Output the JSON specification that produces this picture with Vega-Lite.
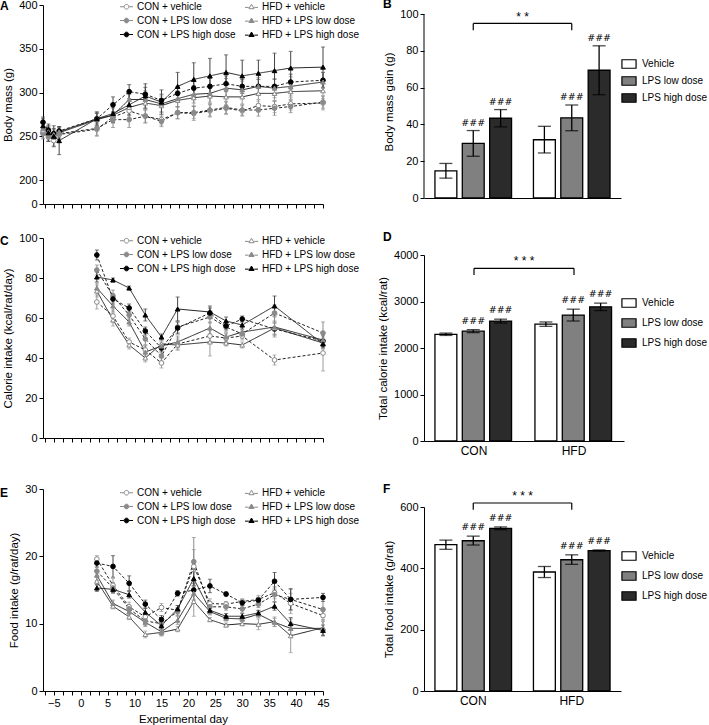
{
"$schema":"https://vega.github.io/schema/vega-lite/v6.json",
"padding":{"left":0,"top":-2,"right":0,"bottom":0},
"config":{"font":"Liberation Sans","view":{"stroke":null},
"axis":{"grid":false,"domainColor":"#000","tickColor":"#000","labelColor":"#000","titleColor":"#000","labelFontSize":11,"titleFontSize":11.5,"titleFontWeight":"normal","labelFont":"Liberation Sans","titleFont":"Liberation Sans","tickSize":4,"titlePadding":5,"labelOverlap":false},
"legend":{"labelFont":"Liberation Sans","labelColor":"#000","padding":0},
"title":{"font":"Liberation Sans","fontWeight":"bold","fontSize":12,"color":"#000","anchor":"start","frame":"group"}},
"datasets":{
"A":[
{"s":"CV","d":-7,"v":254,"e":6},{"s":"CV","d":-6,"v":251,"e":6},{"s":"CV","d":-5,"v":245,"e":6},{"s":"CV","d":-4,"v":252,"e":5},{"s":"CV","d":3,"v":258,"e":8},{"s":"CV","d":6,"v":272,"e":6},{"s":"CV","d":9,"v":279,"e":7},{"s":"CV","d":12,"v":273,"e":7},{"s":"CV","d":15,"v":269,"e":6},{"s":"CV","d":18,"v":277,"e":7},{"s":"CV","d":21,"v":276,"e":8},{"s":"CV","d":24,"v":279,"e":7},{"s":"CV","d":27,"v":282,"e":7},{"s":"CV","d":30,"v":279,"e":6},{"s":"CV","d":33,"v":285,"e":7},{"s":"CV","d":36,"v":284,"e":7},{"s":"CV","d":39,"v":287,"e":7},{"s":"CV","d":45,"v":288,"e":8},
{"s":"CL","d":-7,"v":253,"e":6},{"s":"CL","d":-6,"v":249,"e":5},{"s":"CL","d":-5,"v":249,"e":5},{"s":"CL","d":-4,"v":253,"e":5},{"s":"CL","d":3,"v":259,"e":8},{"s":"CL","d":6,"v":269,"e":9},{"s":"CL","d":9,"v":269,"e":9},{"s":"CL","d":12,"v":273,"e":8},{"s":"CL","d":15,"v":267,"e":6},{"s":"CL","d":18,"v":277,"e":7},{"s":"CL","d":21,"v":277,"e":7},{"s":"CL","d":24,"v":280,"e":7},{"s":"CL","d":27,"v":283,"e":7},{"s":"CL","d":30,"v":280,"e":6},{"s":"CL","d":33,"v":280,"e":7},{"s":"CL","d":36,"v":282,"e":8},{"s":"CL","d":39,"v":284,"e":7},{"s":"CL","d":45,"v":289,"e":7},
{"s":"CH","d":-7,"v":266,"e":6},{"s":"CH","d":-6,"v":257,"e":5},{"s":"CH","d":-5,"v":253,"e":6},{"s":"CH","d":-4,"v":256,"e":5},{"s":"CH","d":3,"v":270,"e":6},{"s":"CH","d":6,"v":286,"e":9},{"s":"CH","d":9,"v":301,"e":8},{"s":"CH","d":12,"v":298,"e":8},{"s":"CH","d":15,"v":291,"e":7},{"s":"CH","d":18,"v":299,"e":8},{"s":"CH","d":21,"v":305,"e":9},{"s":"CH","d":24,"v":307,"e":9},{"s":"CH","d":27,"v":310,"e":9},{"s":"CH","d":30,"v":307,"e":8},{"s":"CH","d":33,"v":307,"e":8},{"s":"CH","d":36,"v":307,"e":8},{"s":"CH","d":39,"v":312,"e":9},{"s":"CH","d":45,"v":314,"e":9},
{"s":"HV","d":-7,"v":257,"e":5},{"s":"HV","d":-6,"v":255,"e":5},{"s":"HV","d":-5,"v":252,"e":5},{"s":"HV","d":-4,"v":255,"e":5},{"s":"HV","d":3,"v":270,"e":7},{"s":"HV","d":6,"v":274,"e":8},{"s":"HV","d":9,"v":283,"e":8},{"s":"HV","d":12,"v":288,"e":8},{"s":"HV","d":15,"v":285,"e":8},{"s":"HV","d":18,"v":291,"e":8},{"s":"HV","d":21,"v":294,"e":9},{"s":"HV","d":24,"v":296,"e":9},{"s":"HV","d":27,"v":295,"e":9},{"s":"HV","d":30,"v":295,"e":8},{"s":"HV","d":33,"v":299,"e":9},{"s":"HV","d":36,"v":299,"e":9},{"s":"HV","d":39,"v":301,"e":9},{"s":"HV","d":45,"v":302,"e":9},
{"s":"HL","d":-7,"v":259,"e":6},{"s":"HL","d":-6,"v":255,"e":6},{"s":"HL","d":-5,"v":251,"e":7},{"s":"HL","d":-4,"v":254,"e":6},{"s":"HL","d":3,"v":269,"e":8},{"s":"HL","d":6,"v":274,"e":9},{"s":"HL","d":9,"v":292,"e":9},{"s":"HL","d":12,"v":292,"e":10},{"s":"HL","d":15,"v":287,"e":9},{"s":"HL","d":18,"v":293,"e":9},{"s":"HL","d":21,"v":298,"e":10},{"s":"HL","d":24,"v":299,"e":10},{"s":"HL","d":27,"v":305,"e":11},{"s":"HL","d":30,"v":303,"e":10},{"s":"HL","d":33,"v":307,"e":10},{"s":"HL","d":36,"v":305,"e":11},{"s":"HL","d":39,"v":307,"e":11},{"s":"HL","d":45,"v":312,"e":11},
{"s":"HH","d":-7,"v":262,"e":8},{"s":"HH","d":-6,"v":254,"e":10},{"s":"HH","d":-5,"v":250,"e":12},{"s":"HH","d":-4,"v":245,"e":16},{"s":"HH","d":3,"v":270,"e":8},{"s":"HH","d":6,"v":276,"e":10},{"s":"HH","d":9,"v":286,"e":12},{"s":"HH","d":12,"v":296,"e":14},{"s":"HH","d":15,"v":289,"e":14},{"s":"HH","d":18,"v":307,"e":16},{"s":"HH","d":21,"v":315,"e":19},{"s":"HH","d":24,"v":319,"e":20},{"s":"HH","d":27,"v":323,"e":20},{"s":"HH","d":30,"v":319,"e":18},{"s":"HH","d":33,"v":322,"e":15},{"s":"HH","d":36,"v":325,"e":20},{"s":"HH","d":39,"v":328,"e":19},{"s":"HH","d":45,"v":329,"e":23}
],
"C":[
{"s":"CV","d":3,"v":68,"e":3.5},{"s":"CV","d":6,"v":61,"e":3},{"s":"CV","d":9,"v":48,"e":2},{"s":"CV","d":12,"v":44,"e":2.5},{"s":"CV","d":15,"v":37.5,"e":2.5},{"s":"CV","d":18,"v":47,"e":3},{"s":"CV","d":24,"v":51,"e":3},{"s":"CV","d":27,"v":50,"e":2},{"s":"CV","d":30,"v":51,"e":2},{"s":"CV","d":36,"v":39,"e":2.5},{"s":"CV","d":45,"v":42.5,"e":9},
{"s":"CL","d":3,"v":84,"e":2.5},{"s":"CL","d":6,"v":71,"e":3},{"s":"CL","d":9,"v":61.5,"e":2.5},{"s":"CL","d":12,"v":49.5,"e":3},{"s":"CL","d":15,"v":41,"e":2.5},{"s":"CL","d":18,"v":55.5,"e":3},{"s":"CL","d":24,"v":60.5,"e":3},{"s":"CL","d":27,"v":55.5,"e":2.5},{"s":"CL","d":30,"v":52,"e":2},{"s":"CL","d":36,"v":62.5,"e":4},{"s":"CL","d":45,"v":52.5,"e":5.5},
{"s":"CH","d":3,"v":91.5,"e":2.5},{"s":"CH","d":6,"v":69.5,"e":2.5},{"s":"CH","d":9,"v":65,"e":2},{"s":"CH","d":12,"v":53.5,"e":2},{"s":"CH","d":15,"v":45,"e":2},{"s":"CH","d":18,"v":55,"e":3},{"s":"CH","d":24,"v":62.5,"e":2.5},{"s":"CH","d":27,"v":56,"e":2},{"s":"CH","d":30,"v":59.5,"e":1.5},{"s":"CH","d":36,"v":54.5,"e":3},{"s":"CH","d":45,"v":48.5,"e":3},
{"s":"HV","d":3,"v":73.5,"e":3},{"s":"HV","d":6,"v":59,"e":3},{"s":"HV","d":9,"v":46.5,"e":2},{"s":"HV","d":12,"v":40,"e":2},{"s":"HV","d":15,"v":47,"e":2},{"s":"HV","d":18,"v":46.5,"e":2.5},{"s":"HV","d":24,"v":48,"e":7},{"s":"HV","d":27,"v":47.5,"e":1.5},{"s":"HV","d":30,"v":46.5,"e":1.5},{"s":"HV","d":36,"v":55,"e":3},{"s":"HV","d":45,"v":47.5,"e":3},
{"s":"HL","d":3,"v":75,"e":2.5},{"s":"HL","d":6,"v":66,"e":3},{"s":"HL","d":9,"v":58,"e":2},{"s":"HL","d":12,"v":43,"e":3},{"s":"HL","d":15,"v":46,"e":2},{"s":"HL","d":18,"v":48,"e":3},{"s":"HL","d":24,"v":55,"e":3},{"s":"HL","d":27,"v":50.5,"e":2},{"s":"HL","d":30,"v":53,"e":2.5},{"s":"HL","d":36,"v":55.5,"e":5},{"s":"HL","d":45,"v":49,"e":3},
{"s":"HH","d":3,"v":80.5,"e":2.5},{"s":"HH","d":6,"v":79,"e":1},{"s":"HH","d":9,"v":75,"e":1},{"s":"HH","d":12,"v":61.5,"e":3},{"s":"HH","d":15,"v":50.5,"e":1.5},{"s":"HH","d":18,"v":64.5,"e":6},{"s":"HH","d":24,"v":63,"e":3},{"s":"HH","d":27,"v":58.5,"e":2},{"s":"HH","d":30,"v":56.5,"e":2},{"s":"HH","d":36,"v":66,"e":5},{"s":"HH","d":45,"v":47,"e":2}
],
"E":[
{"s":"CV","d":3,"v":19.6,"e":0.5},{"s":"CV","d":6,"v":15.7,"e":1},{"s":"CV","d":9,"v":12.5,"e":0.7},{"s":"CV","d":12,"v":11,"e":0.6},{"s":"CV","d":15,"v":12.4,"e":0.6},{"s":"CV","d":18,"v":12,"e":0.7},{"s":"CV","d":21,"v":18.5,"e":2.5},{"s":"CV","d":24,"v":13,"e":0.7},{"s":"CV","d":27,"v":12.9,"e":0.4},{"s":"CV","d":30,"v":13.3,"e":0.4},{"s":"CV","d":33,"v":13.6,"e":0.6},{"s":"CV","d":36,"v":14.6,"e":0.9},{"s":"CV","d":39,"v":13,"e":1.5},{"s":"CV","d":45,"v":11.2,"e":0.7},
{"s":"CL","d":3,"v":17.8,"e":0.6},{"s":"CL","d":6,"v":15.3,"e":0.8},{"s":"CL","d":9,"v":12.2,"e":0.6},{"s":"CL","d":12,"v":10.4,"e":0.7},{"s":"CL","d":15,"v":10,"e":0.8},{"s":"CL","d":18,"v":11.8,"e":0.6},{"s":"CL","d":21,"v":19.2,"e":3.6},{"s":"CL","d":24,"v":12.5,"e":0.7},{"s":"CL","d":27,"v":12.5,"e":0.5},{"s":"CL","d":30,"v":12.2,"e":0.5},{"s":"CL","d":33,"v":12.9,"e":0.5},{"s":"CL","d":36,"v":14.3,"e":1},{"s":"CL","d":39,"v":13.6,"e":1.5},{"s":"CL","d":45,"v":12.1,"e":1.2},
{"s":"CH","d":3,"v":19,"e":0.6},{"s":"CH","d":6,"v":18.5,"e":1.6},{"s":"CH","d":9,"v":16,"e":1.1},{"s":"CH","d":12,"v":12.9,"e":0.6},{"s":"CH","d":15,"v":10.6,"e":0.6},{"s":"CH","d":18,"v":14.5,"e":0.4},{"s":"CH","d":21,"v":15,"e":1.5},{"s":"CH","d":24,"v":15.6,"e":1},{"s":"CH","d":27,"v":14.4,"e":0.3},{"s":"CH","d":30,"v":13.1,"e":0.4},{"s":"CH","d":33,"v":13.5,"e":0.4},{"s":"CH","d":36,"v":16.3,"e":1.3},{"s":"CH","d":39,"v":13.6,"e":1.6},{"s":"CH","d":45,"v":13.9,"e":0.6},
{"s":"HV","d":3,"v":16.3,"e":0.6},{"s":"HV","d":6,"v":12.6,"e":0.4},{"s":"HV","d":9,"v":11,"e":0.4},{"s":"HV","d":12,"v":8.4,"e":0.5},{"s":"HV","d":15,"v":8.7,"e":0.5},{"s":"HV","d":18,"v":9.2,"e":0.4},{"s":"HV","d":21,"v":13.3,"e":2.2},{"s":"HV","d":24,"v":10.6,"e":0.3},{"s":"HV","d":27,"v":9.8,"e":0.3},{"s":"HV","d":30,"v":10,"e":0.3},{"s":"HV","d":33,"v":9.9,"e":0.8},{"s":"HV","d":36,"v":10.3,"e":0.7},{"s":"HV","d":39,"v":8.2,"e":2.5},{"s":"HV","d":45,"v":9.4,"e":1.2},
{"s":"HL","d":3,"v":17.2,"e":0.8},{"s":"HL","d":6,"v":13,"e":0.5},{"s":"HL","d":9,"v":11.8,"e":0.5},{"s":"HL","d":12,"v":10.2,"e":0.6},{"s":"HL","d":15,"v":8.8,"e":0.6},{"s":"HL","d":18,"v":10.5,"e":0.6},{"s":"HL","d":21,"v":14.5,"e":1.5},{"s":"HL","d":24,"v":11.8,"e":0.5},{"s":"HL","d":27,"v":10.8,"e":0.4},{"s":"HL","d":30,"v":10.7,"e":0.4},{"s":"HL","d":33,"v":11.4,"e":0.5},{"s":"HL","d":36,"v":10.2,"e":0.6},{"s":"HL","d":39,"v":9.3,"e":0.9},{"s":"HL","d":45,"v":9.3,"e":1},
{"s":"HH","d":3,"v":15.3,"e":0.5},{"s":"HH","d":6,"v":15.1,"e":0.5},{"s":"HH","d":9,"v":14.3,"e":0.5},{"s":"HH","d":12,"v":11.7,"e":0.6},{"s":"HH","d":15,"v":9.7,"e":0.5},{"s":"HH","d":18,"v":12.2,"e":0.5},{"s":"HH","d":21,"v":16.7,"e":1},{"s":"HH","d":24,"v":12,"e":0.5},{"s":"HH","d":27,"v":11.1,"e":0.4},{"s":"HH","d":30,"v":11.1,"e":0.4},{"s":"HH","d":33,"v":11.6,"e":0.4},{"s":"HH","d":36,"v":12.6,"e":0.6},{"s":"HH","d":39,"v":10,"e":0.9},{"s":"HH","d":45,"v":9,"e":0.8}
],
"B":[
{"g":"CON","t":"Vehicle","v":14.8,"lo":10.8,"hi":18.8,"sig":""},{"g":"CON","t":"LPS low dose","v":29.7,"lo":22.7,"hi":36.7,"sig":"###"},{"g":"CON","t":"LPS high dose","v":43.4,"lo":38.7,"hi":48.1,"sig":"###"},
{"g":"HFD","t":"Vehicle","v":31.7,"lo":24.5,"hi":39,"sig":""},{"g":"HFD","t":"LPS low dose","v":43.6,"lo":36.6,"hi":50.6,"sig":"###"},{"g":"HFD","t":"LPS high dose","v":69.5,"lo":56.2,"hi":82.8,"sig":"###"}
],
"D":[
{"g":"CON","t":"Vehicle","v":2295,"lo":2270,"hi":2320,"sig":""},{"g":"CON","t":"LPS low dose","v":2362,"lo":2330,"hi":2395,"sig":"###"},{"g":"CON","t":"LPS high dose","v":2578,"lo":2535,"hi":2620,"sig":"###"},
{"g":"HFD","t":"Vehicle","v":2513,"lo":2465,"hi":2560,"sig":""},{"g":"HFD","t":"LPS low dose","v":2707,"lo":2580,"hi":2835,"sig":"###"},{"g":"HFD","t":"LPS high dose","v":2886,"lo":2805,"hi":2965,"sig":"###"}
],
"F":[
{"g":"CON","t":"Vehicle","v":477,"lo":462,"hi":492,"sig":""},{"g":"CON","t":"LPS low dose","v":490,"lo":476,"hi":505,"sig":"###"},{"g":"CON","t":"LPS high dose","v":530,"lo":526,"hi":535,"sig":"###"},
{"g":"HFD","t":"Vehicle","v":388,"lo":370,"hi":406,"sig":""},{"g":"HFD","t":"LPS low dose","v":428,"lo":413,"hi":444,"sig":"###"},{"g":"HFD","t":"LPS high dose","v":458,"lo":456,"hi":460,"sig":"###"}
]
},
"resolve":{"scale":{"color":"independent","fill":"independent","stroke":"independent","shape":"independent","strokeDash":"independent"},"legend":{"color":"independent","fill":"independent","stroke":"independent","shape":"independent","strokeDash":"independent"}},
"spacing":18,
"hconcat":[
{"spacing":40,
"resolve":{"scale":{"color":"independent","fill":"independent","stroke":"independent","shape":"independent","strokeDash":"independent"},"legend":{"color":"independent","fill":"independent","stroke":"independent","shape":"independent","strokeDash":"independent"}},
"vconcat":[
{"spacing":23,
"resolve":{"scale":{"color":"independent","fill":"independent","stroke":"independent","shape":"independent","strokeDash":"independent"},"legend":{"color":"independent","fill":"independent","stroke":"independent","shape":"independent","strokeDash":"independent"}},
"vconcat":[
{"width":280,"height":199,"title":{"text":"A","dx":-43,"offset":-14},"data":{"name":"A"},
"resolve":{"scale":{"shape":"independent","fill":"independent","stroke":"independent"},"legend":{"shape":"independent","fill":"independent","stroke":"independent"}},
"encoding":{"x":{"field":"d","type":"quantitative","scale":{"domain":[-7,45],"nice":false,"zero":false},"axis":{"title":null,"labels":false,"values":[-6.667,-5,-3.333,-1.667,0,1.667,3.333,5,6.667,8.333,10,11.667,13.333,15,16.667,18.333,20,21.667,23.333,25,26.667,28.333,30,31.667,33.333,35,36.667,38.333,40,41.667,43.333,45]}},
"y":{"field":"v","type":"quantitative","scale":{"domain":[172.6,400],"nice":false,"zero":false},"axis":{"title":"Body mass (g)","values":[172.6,200,250,300,350,400],"labelExpr":"datum.value < 190 ? '0' : datum.label"}}},
"layer":[
{"mark":{"type":"errorbar","ticks":{"size":4},"thickness":1},"encoding":{"yError":{"field":"e"},"color":{"field":"s","type":"nominal","scale":{"domain":["CL","CV","CH","HV","HL","HH"],"range":["#8a8a8a","#9a9a9a","#444444","#9a9a9a","#8a8a8a","#444444"]},"legend":null}}},
{"mark":{"type":"line","color":"#222222","strokeWidth":1},"encoding":{"strokeDash":{"field":"s","type":"nominal","scale":{"domain":["HH","HL","HV","CH","CL","CV"],"range":[[1,0],[1,0],[1,0],[3,2],[3,2],[3,2]]},"legend":null}}},
{"mark":{"type":"point","size":22,"opacity":1,"strokeWidth":1},"encoding":{
"shape":{"field":"s","type":"nominal","scale":{"domain":["CH","CL","CV","HH","HL","HV"],"range":["circle","circle","circle","triangle-up","triangle-up","triangle-up"]},"legend":null},
"fill":{"field":"s","type":"nominal","scale":{"domain":["CH","CL","CV","HH","HL","HV"],"range":["#000000","#8a8a8a","#ffffff","#000000","#8a8a8a","#ffffff"]},"legend":null},
"stroke":{"field":"s","type":"nominal","scale":{"domain":["CH","CL","CV","HH","HL","HV"],"range":["#000000","#8a8a8a","#8a8a8a","#000000","#8a8a8a","#8a8a8a"]},"legend":null}}},
{"mark":{"type":"point","size":0,"opacity":1,"strokeWidth":1},"encoding":{
"shape":{"field":"s","type":"nominal","scale":{"domain":["CV","CL","CH","HV","HL","HH"],"range":["M-1,0H-0.4M0.4,0H1M-0.36,0A0.36,0.36,0,1,1,0.36,0A0.36,0.36,0,1,1,-0.36,0Z","M-1,0H-0.4M0.4,0H1M-0.36,0A0.36,0.36,0,1,1,0.36,0A0.36,0.36,0,1,1,-0.36,0Z","M-1,0H-0.4M0.4,0H1M-0.36,0A0.36,0.36,0,1,1,0.36,0A0.36,0.36,0,1,1,-0.36,0Z","M-1,0.1H-0.42M0.42,0.1H1M-0.4,0.3L0,-0.38L0.4,0.3Z","M-1,0.1H-0.42M0.42,0.1H1M-0.4,0.3L0,-0.38L0.4,0.3Z","M-1,0.1H-0.42M0.42,0.1H1M-0.4,0.3L0,-0.38L0.4,0.3Z"]},"legend":{"title":null,"orient":"none","legendX":76,"legendY":-6,"columns":2,"columnPadding":6,"rowPadding":1,"symbolSize":170,"symbolOpacity":1,"symbolStrokeWidth":1,"labelFontSize":10,"labelOffset":3,"labelExpr":"datum.value=='CV'?'CON + vehicle':datum.value=='CL'?'CON + LPS low dose':datum.value=='CH'?'CON + LPS high dose':datum.value=='HV'?'HFD + vehicle':datum.value=='HL'?'HFD + LPS low dose':'HFD + LPS high dose'"}},
"fill":{"field":"s","type":"nominal","scale":{"domain":["CV","CL","CH","HV","HL","HH"],"range":["#ffffff","#8a8a8a","#000000","#ffffff","#8a8a8a","#000000"]}},
"stroke":{"field":"s","type":"nominal","scale":{"domain":["CV","CL","CH","HV","HL","HH"],"range":["#8a8a8a","#8a8a8a","#000000","#8a8a8a","#8a8a8a","#000000"]}}}}
]},
{"width":280,"height":200,"title":{"text":"C","dx":-43,"offset":-16},"data":{"name":"C"},
"resolve":{"scale":{"shape":"independent","fill":"independent","stroke":"independent"},"legend":{"shape":"independent","fill":"independent","stroke":"independent"}},
"encoding":{"x":{"field":"d","type":"quantitative","scale":{"domain":[-7,45],"nice":false,"zero":false},"axis":{"title":null,"labels":false,"values":[-6.667,-5,-3.333,-1.667,0,1.667,3.333,5,6.667,8.333,10,11.667,13.333,15,16.667,18.333,20,21.667,23.333,25,26.667,28.333,30,31.667,33.333,35,36.667,38.333,40,41.667,43.333,45]}},
"y":{"field":"v","type":"quantitative","scale":{"domain":[0,100],"nice":false},"axis":{"title":"Calorie intake (kcal/rat/day)","values":[0,20,40,60,80,100]}}},
"layer":[
{"mark":{"type":"errorbar","ticks":{"size":4},"thickness":1},"encoding":{"yError":{"field":"e"},"color":{"field":"s","type":"nominal","scale":{"domain":["CL","CV","CH","HV","HL","HH"],"range":["#8a8a8a","#9a9a9a","#444444","#9a9a9a","#8a8a8a","#444444"]},"legend":null}}},
{"mark":{"type":"line","color":"#222222","strokeWidth":1},"encoding":{"strokeDash":{"field":"s","type":"nominal","scale":{"domain":["HH","HL","HV","CH","CL","CV"],"range":[[1,0],[1,0],[1,0],[3,2],[3,2],[3,2]]},"legend":null}}},
{"mark":{"type":"point","size":22,"opacity":1,"strokeWidth":1},"encoding":{
"shape":{"field":"s","type":"nominal","scale":{"domain":["CH","CL","CV","HH","HL","HV"],"range":["circle","circle","circle","triangle-up","triangle-up","triangle-up"]},"legend":null},
"fill":{"field":"s","type":"nominal","scale":{"domain":["CH","CL","CV","HH","HL","HV"],"range":["#000000","#8a8a8a","#ffffff","#000000","#8a8a8a","#ffffff"]},"legend":null},
"stroke":{"field":"s","type":"nominal","scale":{"domain":["CH","CL","CV","HH","HL","HV"],"range":["#000000","#8a8a8a","#8a8a8a","#000000","#8a8a8a","#8a8a8a"]},"legend":null}}},
{"mark":{"type":"point","size":0,"opacity":1,"strokeWidth":1},"encoding":{
"shape":{"field":"s","type":"nominal","scale":{"domain":["CV","CL","CH","HV","HL","HH"],"range":["M-1,0H-0.4M0.4,0H1M-0.36,0A0.36,0.36,0,1,1,0.36,0A0.36,0.36,0,1,1,-0.36,0Z","M-1,0H-0.4M0.4,0H1M-0.36,0A0.36,0.36,0,1,1,0.36,0A0.36,0.36,0,1,1,-0.36,0Z","M-1,0H-0.4M0.4,0H1M-0.36,0A0.36,0.36,0,1,1,0.36,0A0.36,0.36,0,1,1,-0.36,0Z","M-1,0.1H-0.42M0.42,0.1H1M-0.4,0.3L0,-0.38L0.4,0.3Z","M-1,0.1H-0.42M0.42,0.1H1M-0.4,0.3L0,-0.38L0.4,0.3Z","M-1,0.1H-0.42M0.42,0.1H1M-0.4,0.3L0,-0.38L0.4,0.3Z"]},"legend":{"title":null,"orient":"none","legendX":76,"legendY":-5,"columns":2,"columnPadding":6,"rowPadding":1,"symbolSize":170,"symbolOpacity":1,"symbolStrokeWidth":1,"labelFontSize":10,"labelOffset":3,"labelExpr":"datum.value=='CV'?'CON + vehicle':datum.value=='CL'?'CON + LPS low dose':datum.value=='CH'?'CON + LPS high dose':datum.value=='HV'?'HFD + vehicle':datum.value=='HL'?'HFD + LPS low dose':'HFD + LPS high dose'"}},
"fill":{"field":"s","type":"nominal","scale":{"domain":["CV","CL","CH","HV","HL","HH"],"range":["#ffffff","#8a8a8a","#000000","#ffffff","#8a8a8a","#000000"]}},
"stroke":{"field":"s","type":"nominal","scale":{"domain":["CV","CL","CH","HV","HL","HH"],"range":["#8a8a8a","#8a8a8a","#000000","#8a8a8a","#8a8a8a","#000000"]}}}}
]}
]},
{"width":280,"height":202,"title":{"text":"E","dx":-43,"offset":-17},"data":{"name":"E"},
"resolve":{"scale":{"shape":"independent","fill":"independent","stroke":"independent"},"legend":{"shape":"independent","fill":"independent","stroke":"independent"}},
"encoding":{"x":{"field":"d","type":"quantitative","scale":{"domain":[-7,45],"nice":false,"zero":false},"axis":{"title":"Experimental day","labelFlush":false,"labelExpr":"abs(datum.value % 5) < 0.01 ? datum.label : ''","values":[-6.667,-5,-3.333,-1.667,0,1.667,3.333,5,6.667,8.333,10,11.667,13.333,15,16.667,18.333,20,21.667,23.333,25,26.667,28.333,30,31.667,33.333,35,36.667,38.333,40,41.667,43.333,45]}},
"y":{"field":"v","type":"quantitative","scale":{"domain":[0,30],"nice":false},"axis":{"title":"Food intake (g/rat/day)","values":[0,10,20,30]}}},
"layer":[
{"mark":{"type":"errorbar","ticks":{"size":4},"thickness":1},"encoding":{"yError":{"field":"e"},"color":{"field":"s","type":"nominal","scale":{"domain":["CL","CV","CH","HV","HL","HH"],"range":["#8a8a8a","#9a9a9a","#444444","#9a9a9a","#8a8a8a","#444444"]},"legend":null}}},
{"mark":{"type":"line","color":"#222222","strokeWidth":1},"encoding":{"strokeDash":{"field":"s","type":"nominal","scale":{"domain":["HH","HL","HV","CH","CL","CV"],"range":[[1,0],[1,0],[1,0],[3,2],[3,2],[3,2]]},"legend":null}}},
{"mark":{"type":"point","size":22,"opacity":1,"strokeWidth":1},"encoding":{
"shape":{"field":"s","type":"nominal","scale":{"domain":["CH","CL","CV","HH","HL","HV"],"range":["circle","circle","circle","triangle-up","triangle-up","triangle-up"]},"legend":null},
"fill":{"field":"s","type":"nominal","scale":{"domain":["CH","CL","CV","HH","HL","HV"],"range":["#000000","#8a8a8a","#ffffff","#000000","#8a8a8a","#ffffff"]},"legend":null},
"stroke":{"field":"s","type":"nominal","scale":{"domain":["CH","CL","CV","HH","HL","HV"],"range":["#000000","#8a8a8a","#8a8a8a","#000000","#8a8a8a","#8a8a8a"]},"legend":null}}},
{"mark":{"type":"point","size":0,"opacity":1,"strokeWidth":1},"encoding":{
"shape":{"field":"s","type":"nominal","scale":{"domain":["CV","CL","CH","HV","HL","HH"],"range":["M-1,0H-0.4M0.4,0H1M-0.36,0A0.36,0.36,0,1,1,0.36,0A0.36,0.36,0,1,1,-0.36,0Z","M-1,0H-0.4M0.4,0H1M-0.36,0A0.36,0.36,0,1,1,0.36,0A0.36,0.36,0,1,1,-0.36,0Z","M-1,0H-0.4M0.4,0H1M-0.36,0A0.36,0.36,0,1,1,0.36,0A0.36,0.36,0,1,1,-0.36,0Z","M-1,0.1H-0.42M0.42,0.1H1M-0.4,0.3L0,-0.38L0.4,0.3Z","M-1,0.1H-0.42M0.42,0.1H1M-0.4,0.3L0,-0.38L0.4,0.3Z","M-1,0.1H-0.42M0.42,0.1H1M-0.4,0.3L0,-0.38L0.4,0.3Z"]},"legend":{"title":null,"orient":"none","legendX":76,"legendY":-4,"columns":2,"columnPadding":6,"rowPadding":1,"symbolSize":170,"symbolOpacity":1,"symbolStrokeWidth":1,"labelFontSize":10,"labelOffset":3,"labelExpr":"datum.value=='CV'?'CON + vehicle':datum.value=='CL'?'CON + LPS low dose':datum.value=='CH'?'CON + LPS high dose':datum.value=='HV'?'HFD + vehicle':datum.value=='HL'?'HFD + LPS low dose':'HFD + LPS high dose'"}},
"fill":{"field":"s","type":"nominal","scale":{"domain":["CV","CL","CH","HV","HL","HH"],"range":["#ffffff","#8a8a8a","#000000","#ffffff","#8a8a8a","#000000"]}},
"stroke":{"field":"s","type":"nominal","scale":{"domain":["CV","CL","CH","HV","HL","HH"],"range":["#8a8a8a","#8a8a8a","#000000","#8a8a8a","#8a8a8a","#000000"]}}}}
]}
]},
{"spacing":27,
"resolve":{"scale":{"color":"independent","fill":"independent","stroke":"independent","shape":"independent","strokeDash":"independent"},"legend":{"color":"independent","fill":"independent","stroke":"independent","shape":"independent","strokeDash":"independent"}},
"vconcat":[
{"spacing":28,
"resolve":{"scale":{"color":"independent","fill":"independent","stroke":"independent","shape":"independent","strokeDash":"independent"},"legend":{"color":"independent","fill":"independent","stroke":"independent","shape":"independent","strokeDash":"independent"}},
"vconcat":[
{"width":197,"height":193,"title":{"text":"B","dx":-41,"offset":-6},"data":{"name":"B"},
"layer":[
{"mark":{"type":"bar","stroke":"#000","strokeWidth":1.3},"encoding":{
"x":{"field":"g","type":"nominal","scale":{"domain":["CON","HFD"],"paddingInner":0,"paddingOuter":0},"axis":{"title":null,"labels":false,"ticks":false}},
"xOffset":{"field":"t","type":"nominal","scale":{"domain":["Vehicle","LPS low dose","LPS high dose"],"paddingInner":0.2,"paddingOuter":0.4}},
"y":{"field":"v","type":"quantitative","scale":{"domain":[0,105],"nice":false},"axis":{"title":"Body mass gain (g)","values":[0,20,40,60,80,100],"tickCount":6,"labelOverlap":false,"domain":false}},
"fill":{"field":"t","type":"nominal","scale":{"domain":["Vehicle","LPS low dose","LPS high dose"],"range":["#ffffff","#808080","#2b2b2b"]},"legend":{"title":null,"orient":"none","legendX":197,"legendY":51,"symbolType":"M-1,-0.6H1V0.6H-1Z","symbolSize":200,"symbolStrokeColor":"#000","symbolStrokeWidth":1.2,"labelFontSize":10,"rowPadding":2,"labelOffset":5}}}},
{"data":{"values":[{}]},"mark":{"type":"rule","color":"#000","strokeWidth":1},"encoding":{"x":{"datum":"CON","bandPosition":0},"y":{"datum":0},"y2":{"datum":100}}},
{"mark":{"type":"rule","color":"#000","strokeWidth":1.3},"encoding":{"x":{"field":"g","type":"nominal"},"xOffset":{"field":"t","type":"nominal"},"y":{"field":"lo","type":"quantitative"},"y2":{"field":"hi"}}},
{"mark":{"type":"tick","color":"#000","thickness":1.3,"size":13},"encoding":{"x":{"field":"g","type":"nominal"},"xOffset":{"field":"t","type":"nominal"},"y":{"field":"lo","type":"quantitative"}}},
{"mark":{"type":"tick","color":"#000","thickness":1.3,"size":13},"encoding":{"x":{"field":"g","type":"nominal"},"xOffset":{"field":"t","type":"nominal"},"y":{"field":"hi","type":"quantitative"}}},
{"mark":{"type":"text","color":"#000","baseline":"bottom","dy":-3,"font":"DejaVu Sans","fontSize":9.5},"encoding":{"x":{"field":"g","type":"nominal"},"xOffset":{"field":"t","type":"nominal"},"y":{"field":"hi","type":"quantitative"},"text":{"field":"sig"}}},
{"data":{"values":[{}]},"mark":{"type":"rule","color":"#000","strokeWidth":1.2},"encoding":{"x":{"datum":"CON"},"x2":{"datum":"HFD"},"y":{"datum":95}}},
{"data":{"values":[{}]},"mark":{"type":"rule","color":"#000","strokeWidth":1.2},"encoding":{"x":{"datum":"CON"},"y":{"datum":95},"y2":{"datum":91.3}}},
{"data":{"values":[{}]},"mark":{"type":"rule","color":"#000","strokeWidth":1.2},"encoding":{"x":{"datum":"HFD"},"y":{"datum":95},"y2":{"datum":91.3}}},
{"data":{"values":[{}]},"mark":{"type":"text","color":"#000","baseline":"bottom","fontSize":12,"dy":1},"encoding":{"x":{"datum":"HFD","bandPosition":0},"y":{"datum":95},"text":{"value":"*  *"}}}
]},
{"width":200,"height":186,"title":{"text":"D","dx":-41,"offset":5},"data":{"name":"D"},
"layer":[
{"mark":{"type":"bar","stroke":"#000","strokeWidth":1.3},"encoding":{
"x":{"field":"g","type":"nominal","scale":{"domain":["CON","HFD"],"paddingInner":0,"paddingOuter":0},"axis":{"title":null,"ticks":false,"labelAngle":0,"labelFontSize":12,"labelPadding":4}},
"xOffset":{"field":"t","type":"nominal","scale":{"domain":["Vehicle","LPS low dose","LPS high dose"],"paddingInner":0.2,"paddingOuter":0.4}},
"y":{"field":"v","type":"quantitative","scale":{"domain":[0,4000],"nice":false},"axis":{"title":"Total calorie intake (kcal/rat)","values":[0,1000,2000,3000,4000],"format":"d"}},
"fill":{"field":"t","type":"nominal","scale":{"domain":["Vehicle","LPS low dose","LPS high dose"],"range":["#ffffff","#808080","#2b2b2b"]},"legend":{"title":null,"orient":"none","legendX":197,"legendY":40,"symbolType":"M-1,-0.6H1V0.6H-1Z","symbolSize":200,"symbolStrokeColor":"#000","symbolStrokeWidth":1.2,"labelFontSize":10,"rowPadding":5,"labelOffset":5}}}},
{"mark":{"type":"rule","color":"#000","strokeWidth":1.3},"encoding":{"x":{"field":"g","type":"nominal"},"xOffset":{"field":"t","type":"nominal"},"y":{"field":"lo","type":"quantitative"},"y2":{"field":"hi"}}},
{"mark":{"type":"tick","color":"#000","thickness":1.3,"size":13},"encoding":{"x":{"field":"g","type":"nominal"},"xOffset":{"field":"t","type":"nominal"},"y":{"field":"lo","type":"quantitative"}}},
{"mark":{"type":"tick","color":"#000","thickness":1.3,"size":13},"encoding":{"x":{"field":"g","type":"nominal"},"xOffset":{"field":"t","type":"nominal"},"y":{"field":"hi","type":"quantitative"}}},
{"mark":{"type":"text","color":"#000","baseline":"bottom","dy":-4,"font":"DejaVu Sans","fontSize":9.5},"encoding":{"x":{"field":"g","type":"nominal"},"xOffset":{"field":"t","type":"nominal"},"y":{"field":"hi","type":"quantitative"},"text":{"field":"sig"}}},
{"data":{"values":[{}]},"mark":{"type":"rule","color":"#000","strokeWidth":1.2},"encoding":{"x":{"datum":"CON"},"x2":{"datum":"HFD"},"y":{"datum":3713}}},
{"data":{"values":[{}]},"mark":{"type":"rule","color":"#000","strokeWidth":1.2},"encoding":{"x":{"datum":"CON"},"y":{"datum":3713},"y2":{"datum":3570}}},
{"data":{"values":[{}]},"mark":{"type":"rule","color":"#000","strokeWidth":1.2},"encoding":{"x":{"datum":"HFD"},"y":{"datum":3713},"y2":{"datum":3570}}},
{"data":{"values":[{}]},"mark":{"type":"text","color":"#000","baseline":"bottom","fontSize":12},"encoding":{"x":{"datum":"HFD","bandPosition":0},"y":{"datum":3713},"text":{"value":"*  *  *"}}}
]}
]},
{"width":197,"height":184,"title":{"text":"F","dx":-41,"offset":-6},"data":{"name":"F"},
"layer":[
{"mark":{"type":"bar","stroke":"#000","strokeWidth":1.3},"encoding":{
"x":{"field":"g","type":"nominal","scale":{"domain":["CON","HFD"],"paddingInner":0,"paddingOuter":0},"axis":{"title":null,"ticks":false,"labelAngle":0,"labelFontSize":12,"labelPadding":4}},
"xOffset":{"field":"t","type":"nominal","scale":{"domain":["Vehicle","LPS low dose","LPS high dose"],"paddingInner":0.2,"paddingOuter":0.4}},
"y":{"field":"v","type":"quantitative","scale":{"domain":[0,600],"nice":false},"axis":{"title":"Total food intake (g/rat)","values":[0,200,400,600]}},
"fill":{"field":"t","type":"nominal","scale":{"domain":["Vehicle","LPS low dose","LPS high dose"],"range":["#ffffff","#808080","#2b2b2b"]},"legend":{"title":null,"orient":"none","legendX":197,"legendY":41,"symbolType":"M-1,-0.6H1V0.6H-1Z","symbolSize":200,"symbolStrokeColor":"#000","symbolStrokeWidth":1.2,"labelFontSize":10,"rowPadding":5,"labelOffset":5}}}},
{"mark":{"type":"rule","color":"#000","strokeWidth":1.3},"encoding":{"x":{"field":"g","type":"nominal"},"xOffset":{"field":"t","type":"nominal"},"y":{"field":"lo","type":"quantitative"},"y2":{"field":"hi"}}},
{"mark":{"type":"tick","color":"#000","thickness":1.3,"size":13},"encoding":{"x":{"field":"g","type":"nominal"},"xOffset":{"field":"t","type":"nominal"},"y":{"field":"lo","type":"quantitative"}}},
{"mark":{"type":"tick","color":"#000","thickness":1.3,"size":13},"encoding":{"x":{"field":"g","type":"nominal"},"xOffset":{"field":"t","type":"nominal"},"y":{"field":"hi","type":"quantitative"}}},
{"mark":{"type":"text","color":"#000","baseline":"bottom","dy":-4,"font":"DejaVu Sans","fontSize":9.5},"encoding":{"x":{"field":"g","type":"nominal"},"xOffset":{"field":"t","type":"nominal"},"y":{"field":"hi","type":"quantitative"},"text":{"field":"sig"}}},
{"data":{"values":[{}]},"mark":{"type":"rule","color":"#000","strokeWidth":1.2},"encoding":{"x":{"datum":"CON"},"x2":{"datum":"HFD"},"y":{"datum":613}}},
{"data":{"values":[{}]},"mark":{"type":"rule","color":"#000","strokeWidth":1.2},"encoding":{"x":{"datum":"CON"},"y":{"datum":613},"y2":{"datum":591}}},
{"data":{"values":[{}]},"mark":{"type":"rule","color":"#000","strokeWidth":1.2},"encoding":{"x":{"datum":"HFD"},"y":{"datum":613},"y2":{"datum":591}}},
{"data":{"values":[{}]},"mark":{"type":"text","color":"#000","baseline":"bottom","fontSize":12},"encoding":{"x":{"datum":"HFD","bandPosition":0},"y":{"datum":613},"text":{"value":"*  *  *"}}}
]}
]}
]
}
